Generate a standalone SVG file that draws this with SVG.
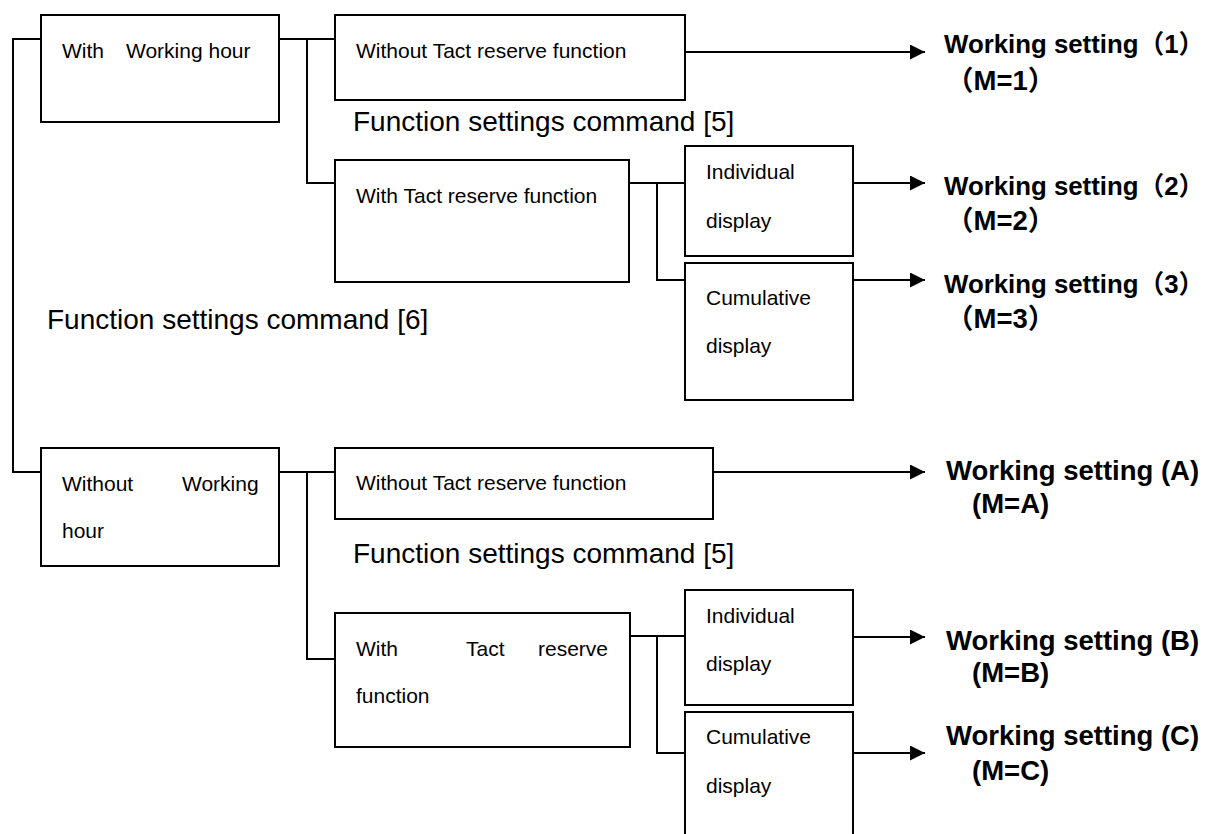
<svg xmlns="http://www.w3.org/2000/svg" width="1210" height="834" viewBox="0 0 1210 834">
<style>
.box{fill:#fff;stroke:#000;stroke-width:2}
.t{font-family:"Liberation Sans",Arial,sans-serif;font-size:21px;fill:#000}
.lab{font-family:"Liberation Sans",Arial,sans-serif;font-size:28px;fill:#000}
.res{font-family:"Liberation Sans",Arial,"Noto Sans CJK SC",sans-serif;font-size:27.5px;font-weight:bold;fill:#000}
.res2{font-size:25.8px}
.c{fill:none;stroke:#000;stroke-width:2}
</style>
<defs>
<marker id="ah" viewBox="0 0 16 16" refX="16" refY="8" markerWidth="16" markerHeight="15" markerUnits="userSpaceOnUse" orient="auto">
<path d="M0 0 L16 8 L0 16 Z" fill="#000"/>
</marker>
</defs>
<rect width="1210" height="834" fill="#fff"/>
<g id="connectors">
<path class="c" d="M41 39 H13 V472 H41"/>
<path class="c" d="M279 39 H335 M307 39 V183 H335"/>
<path class="c" d="M629 183 H685 M657 183 V280 H685"/>
<path class="c" d="M279 472 H335 M307 472 V659 H335"/>
<path class="c" d="M630 636 H685 M657 636 V753 H685"/>
<path class="c" d="M685 52 H925" marker-end="url(#ah)"/>
<path class="c" d="M853 183 H925" marker-end="url(#ah)"/>
<path class="c" d="M853 280 H925" marker-end="url(#ah)"/>
<path class="c" d="M713 472 H925" marker-end="url(#ah)"/>
<path class="c" d="M853 637 H925" marker-end="url(#ah)"/>
<path class="c" d="M853 753 H925" marker-end="url(#ah)"/>
</g>
<g id="node-with-working-hour">
<rect class="box" x="41" y="15" width="238" height="107"/>
<text class="t" x="62" y="58">With</text>
<text class="t" x="126" y="58">Working hour</text>
</g>
<g id="node-without-tact-1">
<rect class="box" x="335" y="15" width="350" height="85"/>
<text class="t" x="356" y="58">Without Tact reserve function</text>
</g>
<g id="node-with-tact-1">
<rect class="box" x="335" y="160" width="294" height="122"/>
<text class="t" x="356" y="203">With Tact reserve function</text>
</g>
<g id="node-individual-1">
<rect class="box" x="685" y="146" width="168" height="110"/>
<text class="t" x="706" y="179">Individual</text>
<text class="t" x="706" y="228">display</text>
</g>
<g id="node-cumulative-1">
<rect class="box" x="685" y="263" width="168" height="137"/>
<text class="t" x="706" y="305">Cumulative</text>
<text class="t" x="706" y="353">display</text>
</g>
<g id="node-without-working-hour">
<rect class="box" x="41" y="448" width="238" height="118"/>
<text class="t" x="62" y="491">Without</text>
<text class="t" x="182" y="491">Working</text>
<text class="t" x="62" y="538">hour</text>
</g>
<g id="node-without-tact-2">
<rect class="box" x="335" y="448" width="378" height="71"/>
<text class="t" x="356" y="490">Without Tact reserve function</text>
</g>
<g id="node-with-tact-2">
<rect class="box" x="335" y="613" width="295" height="134"/>
<text class="t" x="356" y="656">With</text>
<text class="t" x="466" y="656">Tact</text>
<text class="t" x="538" y="656">reserve</text>
<text class="t" x="356" y="703">function</text>
</g>
<g id="node-individual-2">
<rect class="box" x="685" y="590" width="168" height="115"/>
<text class="t" x="706" y="623">Individual</text>
<text class="t" x="706" y="671">display</text>
</g>
<g id="node-cumulative-2">
<rect class="box" x="685" y="712" width="168" height="140"/>
<text class="t" x="706" y="744">Cumulative</text>
<text class="t" x="706" y="793">display</text>
</g>
<g id="labels">
<text class="lab" x="353" y="131">Function settings command [5]</text>
<text class="lab" x="47" y="329">Function settings command [6]</text>
<text class="lab" x="353" y="563">Function settings command [5]</text>
</g>
<g id="results">
<text class="res res2" x="944" y="53">Working setting（1）</text>
<text class="res" x="946" y="90">（M=1）</text>
<text class="res res2" x="944" y="195">Working setting（2）</text>
<text class="res" x="946" y="230">（M=2）</text>
<text class="res res2" x="944" y="293">Working setting（3）</text>
<text class="res" x="946" y="328">（M=3）</text>
<text class="res" x="946" y="480">Working setting (A)</text>
<text class="res" x="972" y="513">(M=A)</text>
<text class="res" x="946" y="650">Working setting (B)</text>
<text class="res" x="972" y="682">(M=B)</text>
<text class="res" x="946" y="745">Working setting (C)</text>
<text class="res" x="972" y="780">(M=C)</text>
</g>
</svg>
